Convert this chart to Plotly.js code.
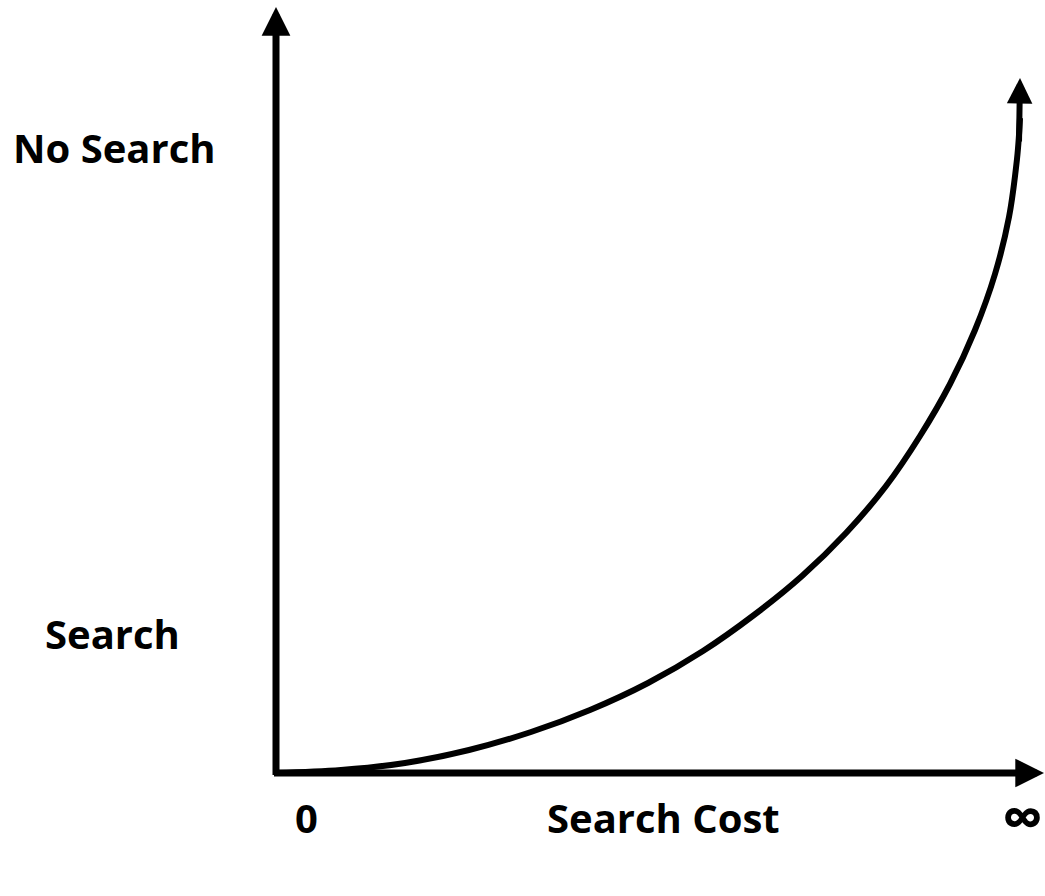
<!DOCTYPE html>
<html>
<head>
<meta charset="utf-8">
<script src="https://cdn.plot.ly/plotly-3.0.1.min.js"></script>
<style>
  html, body { margin: 0; padding: 0; background: #ffffff; }
  #chart { width: 1045px; height: 896px; }
</style>
</head>
<body>
<div id="chart"></div>
<script>
// Search cost (x) vs. search decision (y)
var curveX = [0, 65, 129, 193, 255, 314, 372, 427, 478, 526, 570, 610, 644, 674, 699, 719, 733, 741, 743, 744];
var curveY = [0, 3, 10, 23, 41, 63, 90, 122, 158, 197, 240, 287, 337, 389, 443, 499, 556, 614, 638, 655];
var curveTip = [744, 695];
var xAxisEnd = 768;
var yAxisEnd = 766;
var yLabels = ["No Search", "Search"];
var yLabelPos = [626, 140];
var xLabels = ["0", "Search Cost", "\u221e"];
var xLabelPos = [30, 387, 769];

var FONT = "'Open Sans', 'Noto Sans', sans-serif";
var XSPAN = 768, YSPAN = 766;

var traces = [{
  x: curveX,
  y: curveY,
  type: 'scatter',
  mode: 'lines',
  line: { color: '#000000', width: 6, shape: 'spline', smoothing: 1 },
  hoverinfo: 'skip',
  showlegend: false,
  cliponaxis: false
}];

var annotations = [];
// axes with arrowheads
annotations.push({
  x: xAxisEnd, y: 0, ax: -3.5, ay: 0, xref: 'x', yref: 'y', axref: 'x', ayref: 'y',
  text: '', showarrow: true, arrowhead: 2, arrowsize: 0.82, arrowwidth: 7, arrowcolor: '#000000'
});
annotations.push({
  x: 0, y: yAxisEnd, ax: 0, ay: -3.5, xref: 'x', yref: 'y', axref: 'x', ayref: 'y',
  text: '', showarrow: true, arrowhead: 2, arrowsize: 0.82, arrowwidth: 7, arrowcolor: '#000000'
});
// curve arrow
annotations.push({
  x: curveTip[0], y: curveTip[1], ax: curveX[curveX.length - 2], ay: curveY[curveY.length - 2] - 8,
  xref: 'x', yref: 'y', axref: 'x', ayref: 'y',
  text: '', showarrow: true, arrowhead: 2, arrowsize: 0.85, arrowwidth: 6, arrowcolor: '#000000'
});
// labels (paper coordinates so they can sit outside the plot area)
var yLabelX = [-162, -164];
yLabels.forEach(function (t, i) {
  annotations.push({
    x: yLabelX[i] / XSPAN, y: yLabelPos[i] / YSPAN, xref: 'paper', yref: 'paper',
    text: '<b>' + t + '</b>', showarrow: false,
    font: { family: FONT, size: 40, color: '#000000' }, xanchor: 'center', yanchor: 'middle'
  });
});
var xAnchors = ['center', 'center', 'right'];
var xSizes = [40, 40, 58];
var xYs = [-45, -45, -42];
xLabels.forEach(function (t, i) {
  annotations.push({
    x: xLabelPos[i] / XSPAN, y: xYs[i] / YSPAN, xref: 'paper', yref: 'paper',
    text: '<b>' + t + '</b>', showarrow: false,
    font: { family: FONT, size: xSizes[i], color: '#000000' }, xanchor: xAnchors[i], yanchor: 'middle'
  });
});

var layout = {
  width: 1045,
  height: 896,
  margin: { l: 276, r: 1, t: 7, b: 123, pad: 0 },
  paper_bgcolor: '#ffffff',
  plot_bgcolor: '#ffffff',
  showlegend: false,
  xaxis: { range: [0, XSPAN], visible: false, fixedrange: true },
  yaxis: { range: [0, YSPAN], visible: false, fixedrange: true },
  annotations: annotations
};

Plotly.newPlot('chart', traces, layout, { staticPlot: true, displayModeBar: false });
</script>
</body>
</html>
